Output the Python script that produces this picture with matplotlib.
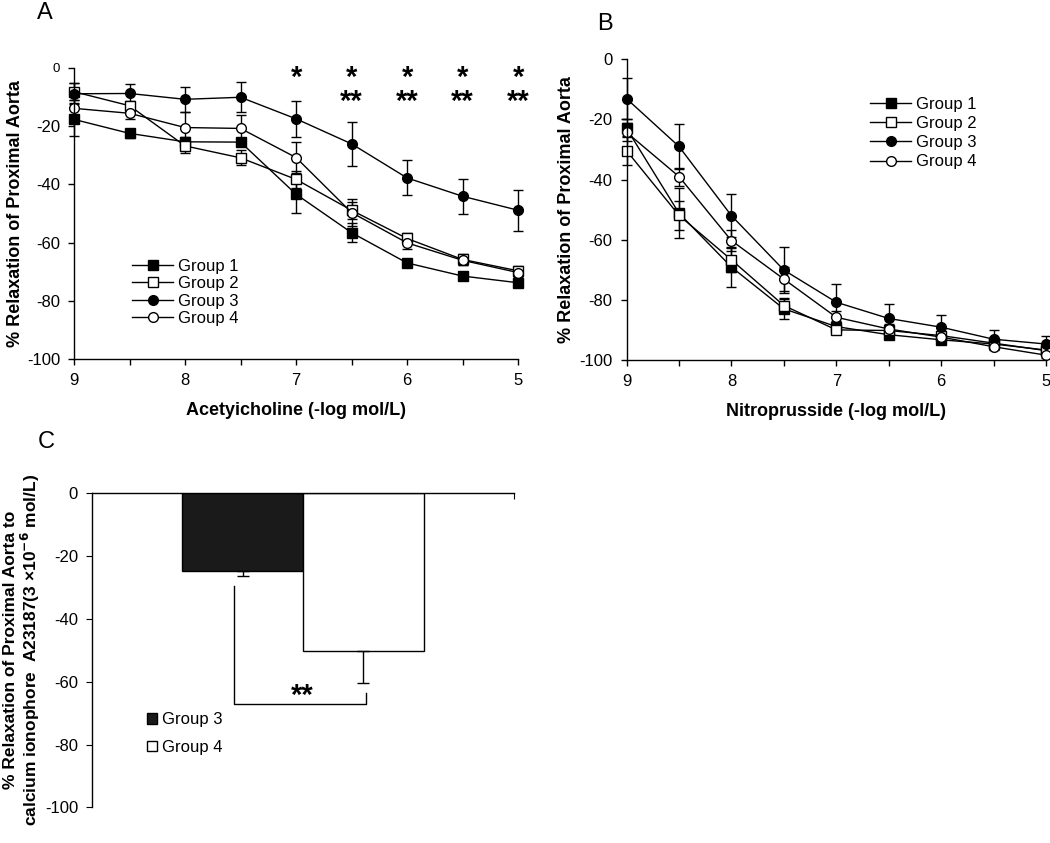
"""Relaxation of proximal aorta: ACh / SNP dose responses and A23187 bars."""
import matplotlib
matplotlib.use("Agg")
import matplotlib.pyplot as plt

plt.rcParams["font.family"] = ["Liberation Sans", "DejaVu Sans"]
plt.rcParams["axes.linewidth"] = 1.0
plt.rcParams["axes.unicode_minus"] = False

# doses (-log mol/L), shared by panels A and B
dose = [9, 8.5, 8, 7.5, 7, 6.5, 6, 5.5, 5]
groups = ["Group 1", "Group 2", "Group 3", "Group 4"]

# panel A: acetylcholine, mean and SEM
ach_g1 = [-17.7, -22.5, -25.4, -25.5, -43.4, -56.6, -67.0, -71.5, -73.8]
ach_g2 = [-8.2, -13.0, -26.8, -30.9, -38.3, -48.9, -58.6, -65.8, -69.7]
ach_g3 = [-8.9, -8.8, -10.8, -10.1, -17.5, -26.1, -37.8, -44.1, -48.9]
ach_g4 = [-13.9, -15.6, -20.5, -20.8, -30.8, -49.7, -60.1, -66.1, -70.3]
ach_g1_err = [5.6, 1.5, 1.5, 1.5, 6.6, 3.2, 1.0, 1.0, 1.0]
ach_g2_err = [2.9, 1.5, 2.5, 2.6, 3.0, 3.0, 2.0, 1.8, 1.5]
ach_g3_err = [3.6, 3.3, 4.3, 5.1, 6.2, 7.6, 6.0, 6.1, 7.0]
ach_g4_err = [3.0, 2.0, 5.5, 4.5, 5.4, 4.6, 2.0, 1.5, 1.5]
star_one = [7, 6.5, 6, 5.5, 5]
star_two = [6.5, 6, 5.5, 5]

# panel B: nitroprusside, mean and SEM
snp_g1 = [-23.0, -51.2, -69.1, -83.0, -88.9, -91.6, -93.3, -94.7, -96.7]
snp_g2 = [-30.4, -51.9, -66.7, -81.9, -90.0, -90.2, -91.9, -94.4, -96.9]
snp_g3 = [-13.1, -29.0, -52.0, -70.1, -80.8, -86.2, -89.1, -93.1, -94.7]
snp_g4 = [-24.3, -39.0, -60.3, -73.1, -85.8, -89.7, -92.4, -95.6, -98.4]
snp_g1_err = [3.0, 8.4, 6.8, 3.4, 1.5, 1.0, 1.0, 1.0, 1.5]
snp_g2_err = [4.8, 4.9, 4.0, 2.5, 1.5, 1.0, 1.0, 1.0, 1.0]
snp_g3_err = [6.9, 7.4, 7.1, 7.7, 6.1, 4.9, 3.9, 3.1, 2.6]
snp_g4_err = [3.0, 3.0, 3.5, 4.0, 2.0, 1.5, 1.0, 1.0, 1.0]

# panel C: calcium ionophore A23187
bar_groups = ["Group 3", "Group 4"]
bar_mean = [-24.6, -50.2]
bar_err = [1.7, 10.1]
bracket_left_top = -29.5
bracket_right_top = -63.7
bracket_bottom = -67.1

markers = ["s", "s", "o", "o"]
faces = ["black", "white", "black", "white"]


def dose_panel(ax, means, errs, legend_anchor, label_gap, spacing):
    for name, y, e, m, fc in zip(groups, means, errs, markers, faces):
        ax.errorbar(dose, y, yerr=e, color="black", marker=m, mfc=fc, mec="black",
                    ms=7, lw=1, elinewidth=1, capsize=3.5, capthick=1,
                    clip_on=False, label=name)
    ax.set_xlim(9, 5)
    ax.set_ylim(-100, 0)
    ax.set_xticks(dose)
    ax.set_xticklabels(["9", "", "8", "", "7", "", "6", "", "5"])
    ax.set_yticks(range(-100, 1, 20))
    ax.tick_params(direction="out", length=4, width=1, labelsize=12, pad=6)
    ax.spines["top"].set_visible(False)
    ax.spines["right"].set_visible(False)
    ax.set_ylabel("% Relaxation of Proximal Aorta", fontsize=13, fontweight="bold",
                  labelpad=label_gap)
    handles, labels = ax.get_legend_handles_labels()
    handles = [h[0] for h in handles]
    ax.legend(handles, labels, loc="upper left", bbox_to_anchor=legend_anchor,
              frameon=False, fontsize=12, handlelength=2.5, handletextpad=0.3,
              labelspacing=spacing, borderpad=0, borderaxespad=0)


fig = plt.figure(figsize=(10.5, 8.43), dpi=100)

ax_a = fig.add_axes([0.0705, 0.5741, 0.4229, 0.3454])
dose_panel(ax_a, [ach_g1, ach_g2, ach_g3, ach_g4],
           [ach_g1_err, ach_g2_err, ach_g3_err, ach_g4_err], (0.13, 0.345), 2, 0.15)
ax_a.set_xlabel("Acetyicholine (-log mol/L)", fontsize=13, fontweight="bold", labelpad=10)
ax_a.get_yticklabels()[-1].set_fontsize(9.5)
# significance marks: * on every dose listed, ** underneath where listed
for xs in star_one:
    mark = "*\n**" if xs in star_two else "*"
    ax_a.text(xs, 1.3, mark, ha="center", va="top", fontsize=21, fontweight="bold",
              linespacing=0.8)

ax_b = fig.add_axes([0.5967, 0.5730, 0.3995, 0.3567])
dose_panel(ax_b, [snp_g1, snp_g2, snp_g3, snp_g4],
           [snp_g1_err, snp_g2_err, snp_g3_err, snp_g4_err], (0.58, 0.875), 3, 0.25)
ax_b.set_xlabel("Nitroprusside (-log mol/L)", fontsize=13, fontweight="bold", labelpad=10)

ax_c = fig.add_axes([0.0876, 0.0423, 0.4019, 0.3725])
pos = list(range(len(bar_groups)))
ax_c.bar(pos, bar_mean, width=1.0, color=["#1a1a1a", "white"], edgecolor="black",
         linewidth=1, label=bar_groups)
ax_c.errorbar(pos, bar_mean, yerr=[bar_err, [0] * len(bar_err)], fmt="none",
              ecolor="black", elinewidth=1, capsize=4, capthick=1)
ax_c.set_xlim(-1.25, 2.25)
ax_c.set_ylim(-100, 0)
ax_c.set_yticks(range(-100, 1, 20))
ax_c.spines["bottom"].set_visible(False)
ax_c.spines["right"].set_visible(False)
ax_c.xaxis.set_ticks_position("top")
ax_c.set_xticks([2.25])
ax_c.tick_params(axis="x", direction="in", length=4, labeltop=False)
ax_c.tick_params(axis="y", direction="out", length=4, labelsize=12, pad=6)
ax_c.set_ylabel("% Relaxation of Proximal Aorta to\n"
                r"calcium ionophore  A23187(3 ×10$^{\mathbf{-6}}$ mol/L)",
                fontsize=12.5, fontweight="bold", labelpad=2, linespacing=1.05)
bx0, bx1 = pos[0] - 0.07, pos[1] + 0.02
ax_c.plot([bx0, bx0, bx1, bx1],
          [bracket_left_top, bracket_bottom, bracket_bottom, bracket_right_top],
          color="black", lw=1)
ax_c.text((bx0 + bx1) / 2 + 0.02, -64.6, "**", ha="center", va="center",
          fontsize=21, fontweight="bold")
ax_c.legend(loc="upper left", bbox_to_anchor=(0.13, 0.303), frameon=False,
            fontsize=12, handlelength=0.6, handleheight=0.6, handletextpad=0.3,
            labelspacing=0.75, borderpad=0, borderaxespad=0)

fig.text(0.043, 0.985, "A", fontsize=17, ha="center", va="center")
fig.text(0.576, 0.972, "B", fontsize=17, ha="center", va="center")
fig.text(0.044, 0.476, "C", fontsize=17, ha="center", va="center")

fig.savefig("out.png", dpi=100)
plt.close(fig)
